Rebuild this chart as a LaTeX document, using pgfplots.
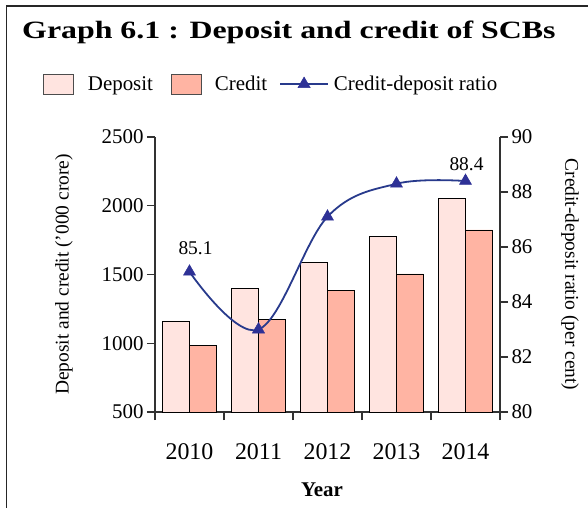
\documentclass[border=0pt]{standalone}
\usepackage{fontspec}
\setmainfont{Liberation Serif}
\usepackage{graphicx}
\usepackage{pgfplots}
\pgfplotsset{compat=1.18}
\definecolor{depcol}{RGB}{255,228,224}
\definecolor{credcol}{RGB}{255,180,163}
\definecolor{linecol}{RGB}{40,58,140}
\definecolor{markcol}{RGB}{46,49,150}
\definecolor{axcol}{RGB}{50,50,50}
\pgfplotsset{mylineleg/.style={legend image code/.code={\draw[mark repeat=2, mark phase=2, ##1] plot coordinates {(0bp,0bp) (24bp,0bp) (48bp,0bp)};}}}
\begin{document}
\begin{tikzpicture}
\begin{axis}[
  at={(0,0)}, anchor=south west,
  scale only axis, width=345bp, height=275bp,
  xmin=-0.5, xmax=4.5, ymin=500, ymax=2500,
  axis x line*=bottom, axis y line*=left,
  axis line style={axcol, line width=1.1bp},
  every tick/.style={axcol, line width=1.1bp},
  tick align=outside, major tick length=8bp,
  xtick={-0.5,0.5,1.5,2.5,3.5,4.5},
  x tick label as interval=true,
  xticklabels={2010,2011,2012,2013,2014},
  xticklabel style={font=\fontsize{24}{28}\selectfont, yshift=-20bp},
  ytick={500,1000,1500,2000,2500},
  yticklabel={\pgfmathprintnumber{\tick}},
  yticklabel style={font=\fontsize{21}{24}\selectfont},
  /pgf/number format/assume math mode=true,
  /pgf/number format/1000 sep={},
  xlabel={\textbf{Year}},
  xlabel style={at={(axis description cs:0.484,-0.309)}, anchor=base, font=\fontsize{21}{24}\selectfont},
  ylabel={Deposit and credit ('000 crore)},
  ylabel style={at={(axis description cs:-0.264,0.5)}, anchor=center, font=\fontsize{19.5}{23}\selectfont},
  clip=true,
]
\addplot[ybar, bar width=0.39, bar shift=-0.195, fill=depcol, draw=black, line width=0.9bp]
  coordinates {(0,1162) (1,1395) (2,1589) (3,1775) (4,2051)};
\addplot[ybar, bar width=0.39, bar shift=0.195, fill=credcol, draw=black, line width=0.9bp]
  coordinates {(0,987) (1,1176) (2,1382) (3,1504) (4,1824)};
\end{axis}
\begin{axis}[
  at={(0,0)}, anchor=south west,
  scale only axis, width=345bp, height=275bp,
  xmin=-0.5, xmax=4.5, ymin=80, ymax=90,
  axis x line=none, axis y line*=right,
  axis line style={axcol, line width=1.1bp},
  every tick/.style={axcol, line width=1.1bp},
  tick align=outside, major tick length=8bp,
  ytick={80,82,84,86,88,90},
  yticklabel={\pgfmathprintnumber{\tick}},
  yticklabel style={font=\fontsize{21}{24}\selectfont},
  /pgf/number format/assume math mode=true,
  ylabel={Credit-deposit ratio (per cent)},
  ylabel style={at={(axis description cs:1.203,0.5)}, anchor=center, rotate=180, font=\fontsize{19.5}{23}\selectfont},
  clip=false,
  legend style={at={(axis description cs:-0.3246,1.1927)}, anchor=west, draw=none, fill=none,
    inner sep=0pt, outer sep=0pt, font=\fontsize{21}{24}\selectfont,
    nodes={inner xsep=0pt, inner ysep=0pt},
    /tikz/column 1/.style={column sep=14bp},
    /tikz/column 2/.style={column sep=18bp},
    /tikz/column 3/.style={column sep=13bp},
    /tikz/column 4/.style={column sep=12bp},
    /tikz/column 5/.style={column sep=5bp}},
  legend columns=-1,
]
\addlegendimage{legend image code/.code={\draw[fill=depcol, draw=black!70, line width=0.9bp] (0bp,-10bp) rectangle (30bp,10bp);}}
\addlegendentry{Deposit}
\addlegendimage{legend image code/.code={\draw[fill=credcol, draw=black!70, line width=0.9bp] (0bp,-10bp) rectangle (30bp,10bp);}}
\addlegendentry{Credit}
\addplot[linecol, line width=1.8bp, smooth, tension=0.6, mark=triangle*, mark size=7bp,
  mark options={fill=markcol, draw=markcol, line width=0.5bp}, mylineleg]
  coordinates {(0,85.1) (1,83.0) (2,87.1) (3,88.3) (4,88.4)};
\addlegendentry{Credit-deposit ratio}
\addplot[draw=none, mark=none, nodes near coords={85.1}, every node near coord/.style={anchor=base, yshift=17bp, xshift=6bp, font=\fontsize{19.5}{23}\selectfont}, forget plot]
  coordinates {(0,85.1)};
\addplot[draw=none, mark=none, nodes near coords={88.4}, every node near coord/.style={anchor=base, yshift=10bp, xshift=1bp, font=\fontsize{19.5}{23}\selectfont}, forget plot]
  coordinates {(4,88.4)};
\end{axis}
\node[anchor=base west, font=\bfseries\fontsize{25}{30}\selectfont, inner sep=0pt] at (-133bp,373bp) {\scalebox{1.28}[1]{Graph 6.1 : Deposit and credit of SCBs}};
\draw[line width=1.3bp, color=black!85] (-148.5bp,-100bp) -- (-148.5bp,406bp) -- (440bp,406bp);
\pgfresetboundingbox
\useasboundingbox (-155bp,-96bp) rectangle (433bp,412bp);
\end{tikzpicture}
\end{document}
